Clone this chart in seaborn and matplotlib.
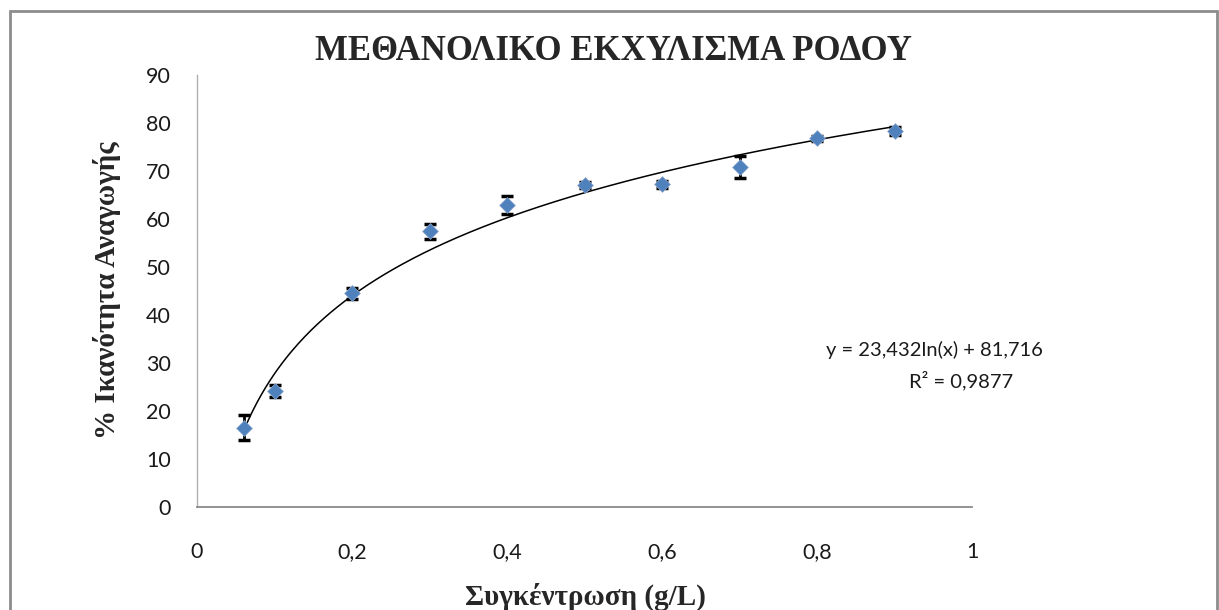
import numpy as np
import pandas as pd
import matplotlib
matplotlib.use("Agg")
import matplotlib.pyplot as plt
from matplotlib.patches import Rectangle
import seaborn as sns

# Measured reducing capacity of methanolic rose extract
concentration = [0.06, 0.1, 0.2, 0.3, 0.4, 0.5, 0.6, 0.7, 0.8, 0.9]
capacity = [16.5, 24.2, 44.5, 57.4, 62.9, 67.1, 67.2, 70.9, 76.8, 78.4]
capacity_err = [2.6, 1.3, 1.1, 1.6, 1.8, 0.6, 0.8, 2.3, 0.5, 0.8]

# Logarithmic trendline coefficients and fit quality
fit_a = 23.432
fit_b = 81.716
fit_r2 = 0.9877

x_ticks = [0, 0.2, 0.4, 0.6, 0.8, 1]
x_tick_labels = ["0", "0,2", "0,4", "0,6", "0,8", "1"]
y_ticks = [0, 10, 20, 30, 40, 50, 60, 70, 80, 90]

title = "ΜΕΘΑΝΟΛΙΚΟ ΕΚΧΥΛΙΣΜΑ ΡΟΔΟΥ"
x_label = "Συγκέντρωση (g/L)"
y_label = "% Ικανότητα Αναγωγής"

sns.set_theme(style="white")
plt.rcParams["font.family"] = ["Lato", "DejaVu Sans"]

W, H = 1219, 610
fig = plt.figure(figsize=(W / 100, H / 100), dpi=100)
ax = fig.add_axes([197 / W, 1 - 507 / H, (972 - 197) / W, (507 - 75) / H])

df = pd.DataFrame({"conc": concentration, "cap": capacity, "err": capacity_err})

# Trendline from the stated equation
xs = np.linspace(min(concentration), max(concentration), 300)
trend = pd.DataFrame({"conc": xs, "cap": fit_a * np.log(xs) + fit_b})
sns.lineplot(data=trend, x="conc", y="cap", ax=ax, color="black", lw=1.1, zorder=2)

ax.errorbar(df["conc"], df["cap"], yerr=df["err"], fmt="none", ecolor="black",
            elinewidth=2.0, capsize=4.5, capthick=2.5, zorder=3)
sns.scatterplot(data=df, x="conc", y="cap", ax=ax, marker="D", s=65,
                color="#4F81BD", edgecolor="#8fa9cf", linewidth=0.5, zorder=4)

ax.set_xlim(0, 1)
ax.set_ylim(0, 90)
ax.set_xticks(x_ticks)
ax.set_xticklabels(x_tick_labels)
ax.set_yticks(y_ticks)
ax.tick_params(axis="x", length=0, pad=25, labelsize=15.5, colors="#1a1a1a")
ax.tick_params(axis="y", length=0, pad=19, labelsize=15.5, colors="#1a1a1a")

for side in ("top", "right"):
    ax.spines[side].set_visible(False)
ax.spines["bottom"].set_color("#8a8a8a")
ax.spines["bottom"].set_linewidth(1.3)
ax.spines["left"].set_color("#b0b0b0")
ax.spines["left"].set_linewidth(1.0)

ax.set_xlabel("")
ax.set_ylabel("")

serif = ["Liberation Serif", "DejaVu Serif"]
fig.text(613 / W, 1 - 52 / H, title, ha="center", va="center",
         fontsize=25, fontweight="bold", family=serif)
fig.text(585 / W, 1 - 597 / H, x_label, ha="center", va="center",
         fontsize=21, fontweight="bold", family=serif)
fig.text(107 / W, 1 - 290 / H, y_label, ha="center", va="center", rotation=90,
         fontsize=21, fontweight="bold", family=serif)

eq1 = "y = " + f"{fit_a:.3f}".replace(".", ",") + "ln(x) + " + f"{fit_b:.3f}".replace(".", ",")
eq2 = "R² = " + f"{fit_r2:.4f}".replace(".", ",")
fig.text(934 / W, 1 - 350 / H, eq1, ha="center", va="center", fontsize=14.5, color="#1a1a1a")
fig.text(961 / W, 1 - 381 / H, eq2, ha="center", va="center", fontsize=14.5, color="#1a1a1a")

# Chart area frame
fig.patches.append(Rectangle((10 / W, -0.05), (1217 - 10) / W, 1 - 11 / H + 0.05,
                             transform=fig.transFigure, fill=False,
                             edgecolor="#8c8c8c", linewidth=2.0, zorder=10))

fig.savefig("out.png", dpi=100)
